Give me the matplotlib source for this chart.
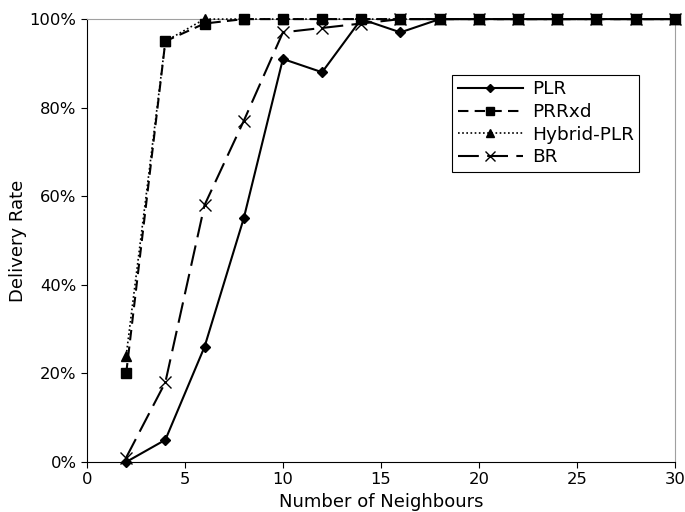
import matplotlib
matplotlib.use("Agg")
import matplotlib.pyplot as plt
from matplotlib.ticker import PercentFormatter

neighbours = [2, 4, 6, 8, 10, 12, 14, 16, 18, 20, 22, 24, 26, 28, 30]
plr = [0, 5, 26, 55, 91, 88, 100, 97, 100, 100, 100, 100, 100, 100, 100]
prrxd = [20, 95, 99, 100, 100, 100, 100, 100, 100, 100, 100, 100, 100, 100, 100]
hybrid = [24, 95, 100, 100, 100, 100, 100, 100, 100, 100, 100, 100, 100, 100, 100]
br = [1, 18, 58, 77, 97, 98, 99, 100, 100, 100, 100, 100, 100, 100, 100]

plt.rcParams.update({"font.size": 11.8, "font.family": "DejaVu Sans"})

fig = plt.figure(figsize=(6.85, 5.12), dpi=100)
ax = fig.add_axes([0.127, 0.0977, 0.858, 0.865])

ax.plot(neighbours, plr, color="black", lw=1.5, marker="D", markersize=5,
        label="PLR", clip_on=False, zorder=4)
ax.plot(neighbours, prrxd, color="black", lw=1.5, ls=(0, (5, 3)),
        marker="s", markersize=7, label="PRRxd", clip_on=False, zorder=3)
ax.plot(neighbours, hybrid, color="black", lw=1.2, ls=(0, (1, 1.5)),
        marker="^", markersize=7, label="Hybrid-PLR", clip_on=False,
        zorder=3)
ax.plot(neighbours, br, color="black", lw=1.5, ls=(0, (10, 4)),
        marker="x", markersize=8, markeredgewidth=1, label="BR",
        clip_on=False, zorder=4)

ax.set_xlim(0, 30)
ax.set_ylim(0, 100)
ax.set_xticks([0, 5, 10, 15, 20, 25, 30])
ax.set_yticks([0, 20, 40, 60, 80, 100])
ax.yaxis.set_major_formatter(PercentFormatter(decimals=0))
ax.set_xlabel("Number of Neighbours", fontsize=13, labelpad=4)
ax.set_ylabel("Delivery Rate", fontsize=13, labelpad=2)
for s in ["top", "right"]:
    ax.spines[s].set_color("#a0a0a0")
ax.tick_params(direction="out", length=4)

leg = ax.legend(loc="upper right", bbox_to_anchor=(0.94, 0.874),
                borderaxespad=0, fancybox=False, edgecolor="black",
                framealpha=1, handlelength=3.5, borderpad=0.3,
                labelspacing=0.25, handletextpad=0.5, fontsize=13.3,
                markerscale=0.85)
leg.get_frame().set_linewidth(0.8)

fig.savefig("out.png", dpi=100)
